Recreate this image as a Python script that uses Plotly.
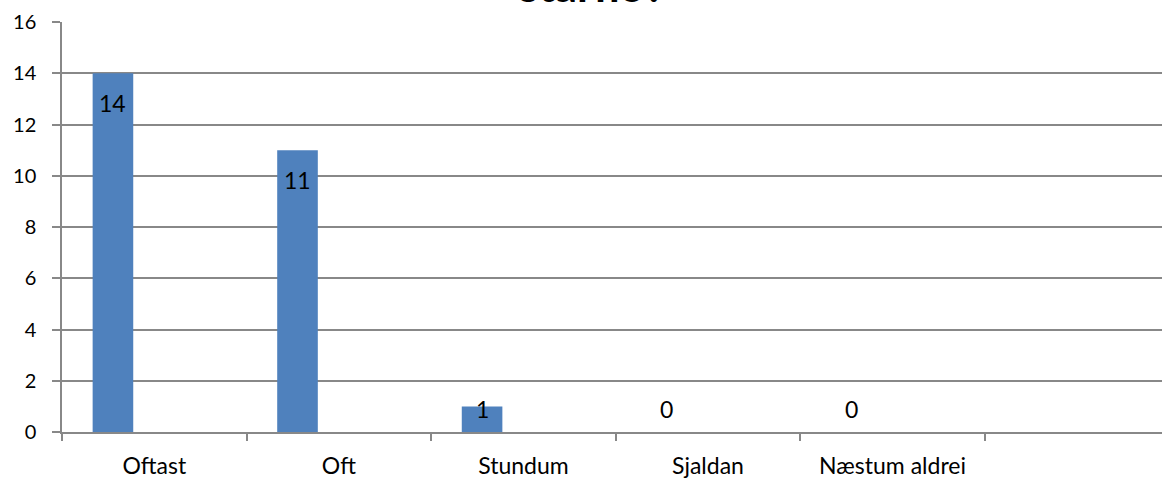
import plotly.graph_objects as go

categories = ["Oftast", "Oft", "Stundum", "Sjaldan", "Næstum aldrei"]
values = [14, 11, 1, 0, 0]
extra_slot = [" "]
y_ticks = [0, 2, 4, 6, 8, 10, 12, 14, 16]
title_text = "starfið?"

BAR_W = 0.22
BAR_OFF = -0.334
FONT = "Lato, Calibri, Arial, sans-serif"
GRID = "#888888"

fig = go.Figure()
fig.add_trace(go.Bar(
    x=categories, y=values,
    width=BAR_W, offset=BAR_OFF,
    marker=dict(color="#4F81BD", line=dict(width=0)),
    showlegend=False, hoverinfo="x+y",
))

annotations = []
for i, v in enumerate(values):
    annotations.append(dict(
        x=i + BAR_OFF + BAR_W / 2, y=max(v - 1.17, 0.9),
        xref="x", yref="y", text=str(v), showarrow=False,
        yanchor="middle", xanchor="center",
        font=dict(family=FONT, size=23, color="black"),
    ))

# chart title, mostly cropped away above the top edge as in the reference
annotations.append(dict(
    x=0.4818, xref="paper", y=1.091, yref="paper",
    text="<b>" + title_text + "</b>", showarrow=False,
    xanchor="center", yanchor="middle",
    font=dict(family=FONT, size=44, color="black"),
))

fig.update_layout(
    width=1162, height=479,
    margin=dict(l=62, r=0, t=22, b=47),
    paper_bgcolor="white", plot_bgcolor="white",
    font=dict(family=FONT, color="black"),
    annotations=annotations,
    xaxis=dict(
        type="category", categoryorder="array", categoryarray=categories + extra_slot,
        range=[-0.5, 5.46], tickson="boundaries", ticks="outside", ticklen=7,
        tickcolor=GRID, tickwidth=1.5, showline=True, linecolor=GRID, linewidth=1.5,
        showgrid=False, tickfont=dict(family=FONT, size=23), ticklabelstandoff=13,
        fixedrange=True,
    ),
    yaxis=dict(
        range=[0, 16], tickvals=y_ticks, ticks="outside", ticklen=8,
        tickcolor=GRID, tickwidth=1.5, showline=True, linecolor=GRID, linewidth=1.5,
        showgrid=True, gridcolor=GRID, gridwidth=1.5, zeroline=False,
        tickfont=dict(family=FONT, size=20), ticklabelstandoff=12,
        fixedrange=True,
    ),
)

fig.write_html("out.html", config={"displayModeBar": False},
               post_script="document.body.style.margin='0';document.body.style.overflow='hidden';")
